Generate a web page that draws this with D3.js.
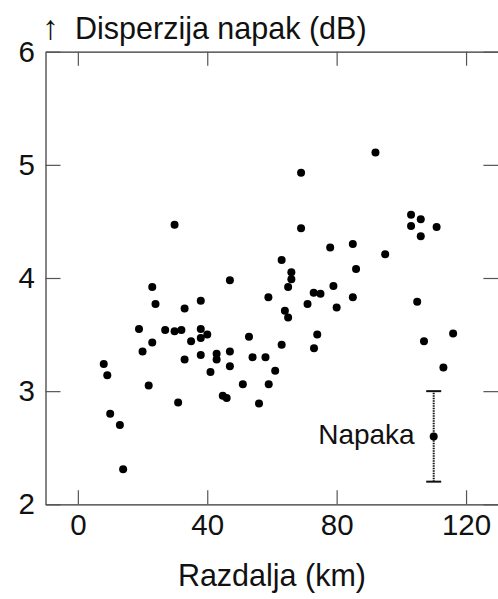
<!DOCTYPE html>
<html>
<head>
<meta charset="utf-8">
<script src="https://cdn.jsdelivr.net/npm/d3@7"></script>
<style>
  body { margin: 0; background: #fff; }
  svg { display: block; font-family: "Liberation Sans", Arial, sans-serif; }
</style>
</head>
<body>
<div id="chart"></div>
<script>
// distance (km) and error dispersion (dB)
const distance = [8.0, 9.1, 10.0, 13.0, 14.0, 18.9, 20.0, 21.9, 23.0, 23.0, 24.0, 27.0, 29.9, 29.9, 31.0, 32.0, 33.0, 33.0, 35.0, 38.0,
    38.0, 38.0, 38.0, 40.0, 41.0, 42.9, 42.9, 44.8, 46.0, 47.0, 47.0, 47.0, 51.0, 52.9, 54.0, 56.0, 58.0, 58.9, 59.0, 61.0,
    63.0, 63.0, 64.0, 65.0, 65.0, 66.0, 66.0, 69.0, 69.0, 71.0, 72.9, 73.0, 74.0, 75.0, 78.0, 79.0, 80.0, 85.0, 85.0, 86.0,
    92.0, 95.0, 103.0, 103.0, 104.9, 106.0, 106.0, 107.0, 110.9, 113.0, 116.0]
const dispersion = [3.24, 3.14, 2.80, 2.70, 2.31, 3.55, 3.35, 3.05, 3.92, 3.43, 3.77, 3.54, 4.47, 3.53, 2.90, 3.54, 3.73, 3.28, 3.44, 3.80,
    3.55, 3.47, 3.32, 3.50, 3.17, 3.33, 3.28, 2.96, 2.94, 3.98, 3.35, 3.22, 3.06, 3.48, 3.30, 2.89, 3.30, 3.83, 3.06, 3.18,
    4.16, 3.41, 3.71, 3.92, 3.65, 4.05, 3.99, 4.93, 4.44, 3.77, 3.87, 3.38, 3.50, 3.86, 4.27, 3.93, 3.74, 4.30, 3.83, 4.08,
    5.11, 4.21, 4.56, 4.46, 3.79, 4.52, 4.37, 3.44, 4.45, 3.21, 3.51]

const xTicks = [0, 40, 80, 120]
const yTicks = [2, 3, 4, 5, 6]
// typical error: [x, low, mid, high]
const errorBar = [110, 2.2, 2.6, 3.0]
const errorLabel = 'Napaka'
const xTitle = 'Razdalja (km)'
const yTitle = 'Disperzija napak (dB)'

const width = 498
const height = 599
const plotLeft = 45.5
const plotRight = 498.4
const plotTop = 51.7
const plotBottom = 504.3

const xScale = d3.scaleLinear().domain([-10, 130]).range([plotLeft, plotRight])
const yScale = d3.scaleLinear().domain([2, 6]).range([plotBottom, plotTop])

const svg = d3.select('#chart')
    .append('svg')
    .attr('width', width)
    .attr('height', height)

const styleAxis = (g) => {
    g.selectAll('.domain').attr('stroke', '#333').attr('stroke-width', 1.2)
    g.selectAll('.tick line').attr('stroke', '#555').attr('stroke-width', 1.2)
    g.selectAll('.tick text').attr('fill', '#111').style('font-size', '29.5px').style('font-family', '"Liberation Sans", Arial, sans-serif')
}

svg.append('g')
    .attr('transform', `translate(0, ${plotBottom})`)
    .call(d3.axisBottom(xScale).tickValues(xTicks).tickSizeInner(-14).tickSizeOuter(0).tickPadding(10))
    .call(styleAxis)
svg.append('g')
    .attr('transform', `translate(0, ${plotTop})`)
    .call(d3.axisTop(xScale).tickValues(xTicks).tickSizeInner(-14).tickSizeOuter(0).tickFormat(''))
    .call(styleAxis)
svg.append('g')
    .attr('transform', `translate(${plotLeft}, 0)`)
    .call(d3.axisLeft(yScale).tickValues(yTicks).tickFormat(d3.format('d')).tickSizeInner(-15).tickSizeOuter(0).tickPadding(10.5))
    .call(styleAxis)
svg.append('g')
    .attr('transform', `translate(${plotRight}, 0)`)
    .call(d3.axisRight(yScale).tickValues(yTicks).tickSizeInner(-15).tickSizeOuter(0).tickFormat(''))
    .call(styleAxis)

svg.append('g')
    .selectAll('circle')
    .data(distance)
    .enter()
    .append('circle')
    .attr('cx', (d) => xScale(d))
    .attr('cy', (d, i) => yScale(dispersion[i]))
    .attr('r', 4)
    .attr('fill', '#000')

// error bar
const eb = svg.append('g')
eb.append('line')
    .attr('x1', xScale(errorBar[0])).attr('x2', xScale(errorBar[0]))
    .attr('y1', yScale(errorBar[1])).attr('y2', yScale(errorBar[3]))
    .attr('stroke', '#111').attr('stroke-width', 2).attr('stroke-dasharray', '1.5,1')
eb.selectAll('.cap')
    .data([errorBar[1], errorBar[3]])
    .enter()
    .append('line')
    .attr('x1', xScale(errorBar[0]) - 7.5).attr('x2', xScale(errorBar[0]) + 7.5)
    .attr('y1', (d) => yScale(d)).attr('y2', (d) => yScale(d))
    .attr('stroke', '#111').attr('stroke-width', 2)
eb.append('circle')
    .attr('cx', xScale(errorBar[0]))
    .attr('cy', yScale(errorBar[2]))
    .attr('r', 4)
    .attr('fill', '#000')
eb.append('text')
    .attr('x', xScale(errorBar[0]) - 19)
    .attr('y', yScale(errorBar[2]) + 8)
    .attr('text-anchor', 'end')
    .style('font-size', '28px')
    .attr('fill', '#111')
    .text(errorLabel)

const title = svg.append('text')
    .attr('y', 39)
    .style('font-size', '30.5px')
    .attr('fill', '#111')
title.append('tspan').attr('x', 42).style('font-size', '34px').text('↑')
title.append('tspan').attr('x', 75).text(yTitle)

svg.append('text')
    .attr('x', (plotLeft + plotRight) / 2)
    .attr('y', 586)
    .attr('text-anchor', 'middle')
    .style('font-size', '30.5px')
    .attr('fill', '#111')
    .text(xTitle)
</script>
</body>
</html>
